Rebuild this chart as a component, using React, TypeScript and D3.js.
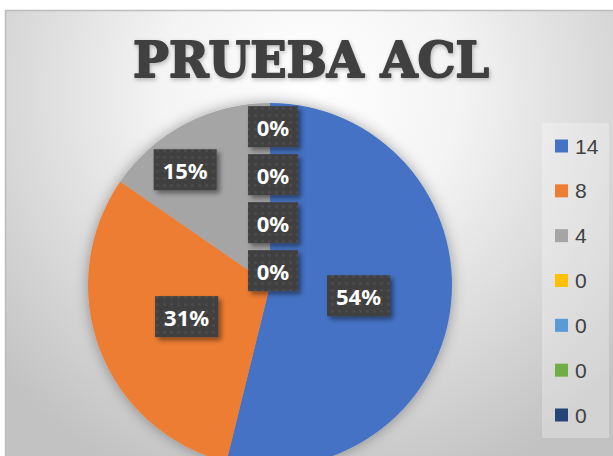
import React from "react";
import * as d3 from "d3";

const categories: string[] = ["14", "8", "4", "0", "0", "0", "0"];
const values: number[] = [14, 8, 4, 0, 0, 0, 0];
const colors: string[] = ["#4472C4", "#ED7D31", "#A5A5A5", "#FFC000", "#5B9BD5", "#70AD47", "#264478"];
const title = "PRUEBA ACL";

const W = 613;
const H = 456;
const CX = 270;
const CY = 285;
const R = 182;

// label layout (not data)
const labelNudge: Record<number, [number, number]> = { 2: [-18, 12] };

export default function App() {
  const pie = d3.pie<number>().sort(null).value((d) => d);
  const arcs = pie(values);
  const arc = d3.arc<d3.PieArcDatum<number>>().innerRadius(0).outerRadius(R);
  const total = d3.sum(values);
  const fmt = (v: number) => `${Math.round((v / total) * 100)}%`;

  let zeroIdx = 0;
  const labels = arcs.map((a, i) => {
    const frac = a.value / total;
    let x: number, y: number;
    if (a.value === 0) {
      const rr = R * 0.87;
      const mid = (a.startAngle + a.endAngle) / 2;
      x = CX + Math.sin(mid) * rr + 3;
      y = CY - Math.cos(mid) * rr + zeroIdx * 48;
      zeroIdx++;
    } else {
      const rr = frac > 0.25 ? R * 0.49 : R * 0.79;
      const c = d3.arc<d3.PieArcDatum<number>>().innerRadius(rr).outerRadius(rr).centroid(a);
      x = CX + c[0];
      y = CY + c[1];
      const n = labelNudge[i];
      if (n) {
        x += n[0];
        y += n[1];
      }
    }
    const text = fmt(a.value);
    const tw = text.length === 2 ? 31 : 44;
    return { x, y, text, w: tw + 19, h: 41 };
  });

  const legendY = d3.scalePoint<number>().domain(d3.range(categories.length)).range([146, 415]);

  return (
    <svg width={W} height={H} style={{ position: "absolute", left: 0, top: 0 }}>
      <defs>
        <radialGradient id="bg" cx="310" cy="90" r="420" gradientUnits="userSpaceOnUse">
          <stop offset="0" stopColor="#ffffff" />
          <stop offset="0.35" stopColor="#f4f4f4" />
          <stop offset="1" stopColor="#c2c2c2" />
        </radialGradient>
        <filter id="pieShadow" x="-20%" y="-20%" width="140%" height="140%">
          <feDropShadow dx="0" dy="0" stdDeviation="7" floodColor="#000" floodOpacity="0.35" />
        </filter>
        <filter id="boxShadow" x="-30%" y="-30%" width="160%" height="160%">
          <feDropShadow dx="3" dy="3" stdDeviation="2.5" floodColor="#000" floodOpacity="0.45" />
        </filter>
        <filter id="titleShadow" x="-10%" y="-20%" width="120%" height="150%">
          <feDropShadow dx="1" dy="2" stdDeviation="2" floodColor="#000" floodOpacity="0.25" />
        </filter>
        <pattern id="dots" width="7" height="7" patternUnits="userSpaceOnUse">
          <rect width="7" height="7" fill="#3f3f3f" />
          <circle cx="3.5" cy="3.5" r="1.4" fill="#4d4d4d" />
        </pattern>
      </defs>
      <rect x={5.5} y={10.5} width={640} height={480} fill="url(#bg)" stroke="#bdbdbd" strokeWidth={1.5} />
      <text
        x={133}
        y={77}
        textLength={356}
        lengthAdjust="spacingAndGlyphs"
        style={{ fontFamily: "'DejaVu Serif'", fontWeight: 700, fontSize: "48px" }}
        fill="#404040"
        stroke="#404040"
        strokeWidth={1.8}
        strokeLinejoin="round"
        filter="url(#titleShadow)"
      >
        {title}
      </text>
      <g transform={`translate(${CX},${CY})`} filter="url(#pieShadow)">
        {arcs.map((a, i) => (
          <path key={i} d={arc(a) || ""} fill={colors[i]} />
        ))}
      </g>
      {labels.map((l, i) => (
        <g key={i}>
          <rect
            x={l.x - l.w / 2}
            y={l.y - l.h / 2}
            width={l.w}
            height={l.h}
            fill="url(#dots)"
            filter="url(#boxShadow)"
          />
          <text
            x={l.x}
            y={l.y}
            textAnchor="middle"
            dominantBaseline="central"
            fontFamily="'Noto Sans', 'Open Sans', sans-serif"
            fontWeight="bold"
            fontSize={22}
            fill="#ffffff"
          >
            {l.text}
          </text>
        </g>
      ))}
      <rect x={542} y={123} width={67} height={315} fill="#ffffff" fillOpacity={0.28} />
      {categories.map((c, i) => (
        <g key={i} transform={`translate(0,${legendY(i)})`}>
          <rect x={555} y={-6.5} width={13} height={13} fill={colors[i]} />
          <text
            x={575}
            y={0}
            dominantBaseline="central"
            fontFamily="'Liberation Sans', Arial, sans-serif"
            fontSize={21}
            fill="#404040"
          >
            {c}
          </text>
        </g>
      ))}
    </svg>
  );
}
